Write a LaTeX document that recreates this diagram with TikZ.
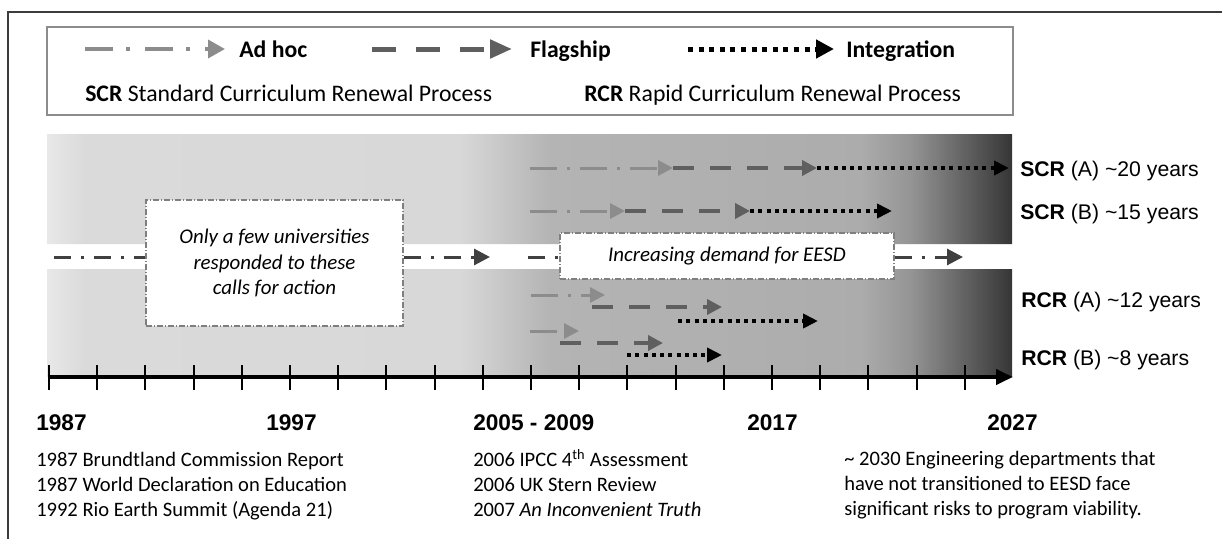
\documentclass[tikz,border=0pt]{standalone}
\usepackage{fontspec}
\setmainfont{Carlito}
\newfontfamily\arialfont{Liberation Sans}
\usetikzlibrary{arrows.meta}
\definecolor{adgray}{HTML}{8C8C8C}
\definecolor{flgray}{HTML}{5F5F5F}
\definecolor{midgray}{HTML}{404040}
\definecolor{boxgray}{HTML}{7F7F7F}
\definecolor{framegray}{HTML}{3C3C3C}
\pgfdeclarehorizontalshading{bandshade}{100bp}{%
  rgb(0bp)=(0.91,0.91,0.91); rgb(25bp)=(0.91,0.91,0.91);
  rgb(26.97bp)=(0.855,0.855,0.855); rgb(46.4bp)=(0.847,0.847,0.847);
  rgb(51.06bp)=(0.706,0.706,0.706); rgb(67.12bp)=(0.675,0.675,0.675);
  rgb(69.72bp)=(0.584,0.584,0.584); rgb(72.31bp)=(0.40,0.40,0.40);
  rgb(75bp)=(0.21,0.21,0.21); rgb(100bp)=(0.21,0.21,0.21)}
\begin{document}
\begin{tikzpicture}[x=0.75pt,y=-0.75pt,
  adhoc/.style={draw=adgray, line width=2.25pt, dash pattern=on 20.25pt off 7.5pt on 2.25pt off 7.5pt, -{Triangle[length=11.25pt,width=11.25pt,fill=adgray]}},
  flagarr/.style={draw=flgray, line width=3pt, dash pattern=on 15.75pt off 12pt, -{Triangle[length=11.25pt,width=11.25pt,fill=flgray]}},
  integ/.style={draw=black, line width=3pt, dash pattern=on 3pt off 3.2pt, -{Triangle[length=11.25pt,width=10.5pt]}},
  ladhoc/.style={draw=adgray, line width=2.6pt, dash pattern=on 21pt off 10pt on 3pt off 11pt, -{Triangle[length=12.75pt,width=13.5pt,fill=adgray]}},
  lflag/.style={draw=flgray, line width=3.75pt, dash pattern=on 18pt off 15pt, -{Triangle[length=16.5pt,width=13.5pt,fill=flgray]}},
  linteg/.style={draw=black, line width=3.75pt, dash pattern=on 3.75pt off 4.2pt, -{Triangle[length=13.5pt,width=13.5pt]}},
  midflow/.style={draw=midgray, line width=2.25pt, dash pattern=on 12.75pt off 7.5pt on 2.25pt off 7.5pt},
  midarrow/.style={midflow, -{Triangle[length=12pt,width=12pt,fill=midgray]}},
  callout/.style={draw=boxgray, fill=white, line width=0.8pt, dash pattern=on 4.5pt off 1.5pt on 0.75pt off 1.5pt, inner sep=0pt, align=center, font=\fontsize{15.7}{19.2}\selectfont\itshape},
  legtext/.style={anchor=base west, inner sep=0pt, font=\fontsize{17.8}{21}\selectfont},
  rlabel/.style={anchor=base west, inner sep=0pt, font=\arialfont\fontsize{15.9}{19}\selectfont},
  yearlabel/.style={anchor=base west, inner sep=0pt, font=\arialfont\bfseries\fontsize{17}{20}\selectfont},
  note/.style={anchor=base west, inner sep=0pt, font=\fontsize{15.4}{19}\selectfont},
  axisline/.style={draw=black, line width=3pt, -{Triangle[length=12.75pt,width=11.25pt]}},
  tickmark/.style={draw=black, line width=1.5pt}
]
\useasboundingbox (0,0) rectangle (1222,539);
\fill[white] (0,0) rectangle (1222,539);
% outer frame
\draw[framegray, line width=1.5pt] (1222,12) -- (8,12) -- (8,539);
% legend
\node[draw=adgray, fill=white, line width=1.1pt, minimum width=724.5pt, minimum height=66pt, inner sep=0pt] (legend) at (530,71) {};
\coordinate (la0) at (85,49);  \coordinate (la1) at (225,49);
\coordinate (lf0) at (372,49); \coordinate (lf1) at (512,49);
\coordinate (li0) at (688,49); \coordinate (li1) at (834,49);
\draw[ladhoc] (la0) -- (la1);
\draw[lflag] (lf0) -- (lf1);
\draw[linteg] (li0) -- (li1);
\node[legtext] (tAd) at (239,57) {\textbf{Ad hoc}};
\node[legtext] (tFl) at (530,57) {\textbf{Flagship}};
\node[legtext] (tIn) at (846,57) {\textbf{Integration}};
\node[legtext] (tSCR) at (85,101) {\textbf{SCR} Standard Curriculum Renewal Process};
\node[legtext] (tRCR) at (584,101) {\textbf{RCR} Rapid Curriculum Renewal Process};
% band
\shade[shading=bandshade] (47,134) rectangle (1012,244) (47,269) rectangle (1012,377);
% callout boxes and middle flow
\node[callout, minimum width=192.75pt, minimum height=94.5pt] (boxA) at (274.5,263) {Only a few universities\\responded to these\\calls for action};
\node[callout, minimum width=250.5pt, minimum height=34.5pt] (boxB) at (727,256) {Increasing demand for EESD};
\coordinate (m0) at (54,257);
\coordinate (m1) at (490,257);
\coordinate (m2) at (528,257);
\coordinate (m3) at (963,257);
\draw[midflow] (m0) -- (m0 -| boxA.west);
\draw[midarrow] (m0 -| boxA.east) -- (m1);
\draw[midflow] (m2) -- (m2 -| boxB.west);
\draw[midarrow] (m2 -| boxB.east) -- (m3);
% SCR A
\coordinate (a0) at (530,168); \coordinate (a1) at (673,168); \coordinate (a2) at (817,168); \coordinate (a3) at (1009,168);
\draw[adhoc] (a0) -- (a1); \draw[flagarr] (a1) -- (a2); \draw[integ] (a2) -- (a3);
% SCR B
\coordinate (b0) at (530,211); \coordinate (b1) at (625,211); \coordinate (b2) at (750,211); \coordinate (b3) at (892,211);
\draw[adhoc] (b0) -- (b1); \draw[flagarr] (b1) -- (b2); \draw[integ] (b2) -- (b3);
% RCR A
\coordinate (c0) at (531,295); \coordinate (c1) at (605,295);
\coordinate (c2) at (592,307); \coordinate (c3) at (722,307);
\coordinate (c4) at (678,321); \coordinate (c5) at (818,321);
\draw[adhoc] (c0) -- (c1); \draw[flagarr] (c2) -- (c3); \draw[integ] (c4) -- (c5);
% RCR B
\coordinate (d0) at (530,331); \coordinate (d1) at (579,331);
\coordinate (d2) at (560,343); \coordinate (d3) at (663,343);
\coordinate (d4) at (627,355); \coordinate (d5) at (722,355);
\draw[adhoc] (d0) -- (d1); \draw[flagarr] (d2) -- (d3); \draw[integ] (d4) -- (d5);
% right labels
\node[rlabel] (rSA) at (1020,176) {\textbf{SCR} (A) \textasciitilde20 years};
\node[rlabel] (rSB) at (1020,219) {\textbf{SCR} (B) \textasciitilde15 years};
\node[rlabel] (rRA) at (1021,307) {\textbf{RCR} (A) \textasciitilde12 years};
\node[rlabel] (rRB) at (1021,365) {\textbf{RCR} (B) \textasciitilde8 years};
% timeline
\coordinate (ax0) at (47.5,377);
\coordinate (ax1) at (1013,377);
\draw[axisline] (ax0) -- (ax1);
\foreach \k in {0,...,19} {
  \draw[tickmark] ({49+48.2*\k},365) -- ({49+48.2*\k},390);
}
% year labels
\node[yearlabel] (y1) at (36,430) {1987};
\node[yearlabel] (y2) at (266,430) {1997};
\node[yearlabel] (y3) at (473,430) {2005 - 2009};
\node[yearlabel] (y4) at (747,430) {2017};
\node[yearlabel] (y5) at (987,430) {2027};
% notes
\node[note] (n11) at (36,466) {1987 Brundtland Commission Report};
\node[note] (n12) at (36,491) {1987 World Declaration on Education};
\node[note] (n13) at (36,516) {1992 Rio Earth Summit (Agenda 21)};
\node[note] (n21) at (473,466) {2006 IPCC 4\textsuperscript{th} Assessment};
\node[note] (n22) at (473,491) {2006 UK Stern Review};
\node[note] (n23) at (473,516) {2007 \textit{An Inconvenient Truth}};
\node[note] (n31) at (844,465) {\textasciitilde{} 2030 Engineering departments that};
\node[note] (n32) at (844,490) {have not transitioned to EESD face};
\node[note] (n33) at (844,515) {significant risks to program viability.};
\end{tikzpicture}
\end{document}
